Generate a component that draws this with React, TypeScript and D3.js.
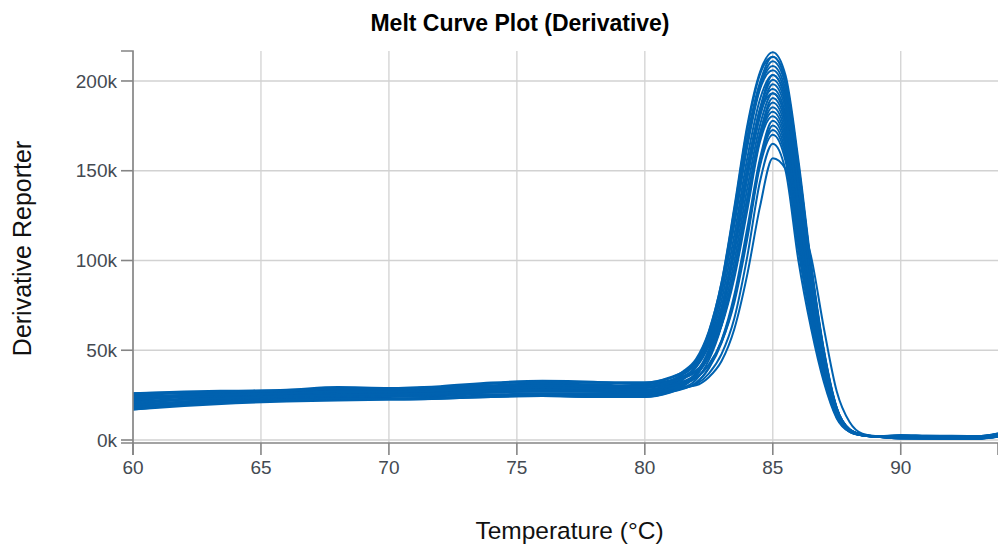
import React from 'react';
import * as d3 from 'd3';

// Temperature grid (°C)
const temperatures = [60, 62, 64, 66, 68, 70, 72, 74, 76, 78, 80, 81, 81.5, 82, 82.5, 83, 83.5, 84, 84.5, 85, 85.5, 86, 86.5, 87, 87.5, 88, 88.5, 89, 90, 91, 92, 93, 93.8];

// Derivative reporter values (thousands) per well
const well01 = [22, 24, 25, 26, 27, 27, 28, 30, 30.5, 30, 30, 33, 37, 44, 60, 88, 130, 175, 205, 216, 203, 156, 98, 50, 18, 6, 3, 2, 2.2, 2, 1.8, 1.8, 3.2];
const well02 = [19, 21.5, 23, 24, 25, 25.5, 26, 27.5, 28.5, 28, 28, 31, 34.5, 41, 56, 82.5, 122, 166, 197, 211, 198, 150.5, 94.5, 48, 17.5, 6, 3, 2, 1.8, 1.6, 1.5, 1.5, 2.8];
const well03 = [25.5, 26.5, 27, 27.5, 29, 28.5, 29.5, 31.5, 32.5, 32, 32, 35, 38, 44, 58, 83, 120.5, 163, 195.5, 206, 192.5, 145, 91, 46.5, 17, 5.7, 2.9, 2, 2.5, 2.2, 2, 2, 3.5];
const well04 = [17, 19.5, 21, 22, 22.5, 23, 23.5, 25, 26, 26, 26, 28.7, 31.8, 37.3, 50.3, 73.2, 108.6, 150.3, 183.9, 200.7, 187.1, 139.2, 87.2, 44.6, 16.2, 5.5, 2.9, 2, 1.2, 1, 0.9, 0.9, 2.2];
const well05 = [24, 25, 26, 26.5, 27.5, 27.5, 28.5, 30, 31, 30.5, 30, 32.6, 35.4, 40.4, 52.4, 73.6, 106.8, 147.4, 182.2, 195.6, 181.8, 133.6, 83.6, 42.8, 15.6, 5.4, 2.8, 2, 2, 1.8, 1.6, 1.5, 3];
const well06 = [18, 20, 21, 22, 22.5, 22.5, 23, 24, 24.5, 24, 24, 26.5, 29, 33.5, 44.5, 64, 95, 134.5, 170.5, 190.5, 176.5, 128, 80, 41, 15, 5.3, 2.8, 2, 1, 0.8, 0.8, 0.8, 2];
const well07 = [21, 22.5, 24, 25, 25.5, 26, 26.5, 28, 28.5, 28, 28, 30.4, 32.6, 36.6, 46.6, 64.4, 93.2, 131.6, 168.8, 185.4, 171.2, 122.4, 76.4, 39.2, 14.4, 5.1, 2.7, 2, 1.6, 1.4, 1.3, 1.3, 2.6];
const well08 = [26, 27, 27.5, 28, 29.5, 29, 30, 32, 33, 32.5, 31, 33.3, 35.2, 38.7, 47.7, 63.8, 90.4, 127.7, 166.1, 180.3, 165.9, 116.8, 72.8, 37.4, 13.8, 5, 2.7, 2, 2.4, 2.1, 2, 1.9, 3.4];
const well09 = [20, 21, 22, 23, 23.5, 24, 24.5, 25.5, 25.5, 25, 25, 27.2, 28.8, 31.8, 39.8, 54.2, 78.6, 114.8, 154.4, 175.2, 160.6, 111.2, 69.2, 35.6, 13.2, 4.8, 2.6, 2, 1.3, 1.1, 1, 1, 2.3];
const well10 = [23, 24, 25, 25.5, 26.5, 26.5, 27, 29, 29.5, 29, 29, 31.1, 32.4, 34.9, 41.9, 54.6, 76.8, 111.9, 152.7, 170.1, 155.3, 105.6, 65.6, 33.8, 12.6, 4.65, 2.55, 2, 2, 1.7, 1.6, 1.6, 3];
const well11 = [18.5, 21, 22.5, 23.5, 24, 24.5, 25, 26.5, 27, 27, 26, 28, 29, 31, 37, 48, 68, 102, 144, 165, 150, 100, 62, 32, 12, 4.5, 2.5, 2, 1.5, 1.3, 1.2, 1.2, 2.5];
const well12 = [24.5, 24.5, 25, 25, 25, 25.5, 25.5, 26.5, 27, 27, 27, 28.5, 29.5, 30.5, 35, 44, 62, 92, 130, 157, 151, 126, 102, 62, 27, 10, 3.5, 2.2, 1.8, 1.6, 1.4, 1.4, 2.8];
const well13 = [20, 22.5, 24, 25, 26, 26.5, 27, 28.5, 29, 28, 27, 30, 33.8, 40.6, 56, 83.2, 124.1, 168.6, 199.2, 213.5, 200.4, 153.2, 96.2, 49.1, 17.7, 5.9, 3, 2, 1.7, 1.5, 1.4, 1.4, 2.7];
const well14 = [23.5, 25, 26, 27, 28, 28, 29, 30.5, 31.5, 31, 30, 32.9, 36.4, 42.7, 57.2, 82.6, 121.3, 164.7, 196.5, 208.4, 195.1, 147.6, 92.6, 47.3, 17.1, 5.8, 2.9, 2, 2.3, 2, 1.9, 1.8, 3.3];
const well15 = [21.5, 23, 24.5, 25.5, 26.5, 27, 27.5, 29, 30, 29.5, 29, 31.8, 35, 40.8, 54.3, 78, 114.5, 156.8, 189.8, 203.3, 189.8, 142, 89, 45.5, 16.5, 5.6, 2.9, 2, 1.4, 1.2, 1.1, 1.1, 2.4];
const well16 = [17.5, 19.5, 21, 22, 22.5, 23, 23.5, 24.5, 25.5, 25, 25, 27.7, 30.6, 35.9, 48.4, 70.4, 104.7, 145.9, 180.1, 198.2, 184.5, 136.4, 85.4, 43.7, 15.9, 5.5, 2.8, 2, 0.9, 0.8, 0.7, 0.7, 1.9];
const well17 = [25, 26, 26.5, 27.5, 28.5, 28.5, 29.5, 31.5, 32.5, 32, 32, 34.6, 37.2, 42, 53.5, 73.8, 105.9, 146, 181.4, 193.1, 179.2, 130.8, 81.8, 41.9, 15.3, 5.3, 2.8, 2, 2.6, 2.3, 2.2, 2.1, 3.6];
const well18 = [19.5, 21.5, 23, 24, 24.5, 25, 25.5, 27, 27.5, 27.5, 27, 29.5, 31.8, 36.1, 46.6, 65.2, 95.1, 134.1, 170.7, 188, 173.9, 125.2, 78.2, 40.1, 14.7, 5.2, 2.7, 2, 1.2, 1, 1, 1, 2.2];
const well19 = [22.5, 24, 25, 26, 27, 27, 28, 29.5, 30.5, 30, 30, 32.4, 34.4, 38.2, 47.7, 64.6, 92.3, 130.2, 168, 182.9, 168.6, 119.6, 74.6, 38.3, 14.1, 5, 2.7, 2, 1.9, 1.7, 1.6, 1.5, 2.9];
const well20 = [18, 20.5, 21.5, 22.5, 23, 23, 23.5, 24.5, 25, 24.5, 24.5, 26.8, 28.5, 31.8, 40.3, 55.5, 81, 117.8, 156.8, 177.8, 163.3, 114, 71, 36.5, 13.5, 4.9, 2.6, 2, 0.8, 0.7, 0.6, 0.6, 1.8];
const well21 = [24, 25, 25.5, 26, 27, 27, 27.5, 29, 29.5, 28.5, 28, 30.2, 31.6, 34.4, 41.9, 55.4, 78.7, 114.4, 154.6, 172.7, 158, 108.4, 67.4, 34.7, 12.9, 4.7, 2.6, 2, 1.6, 1.4, 1.3, 1.3, 2.7];
const well22 = [17, 19, 20.5, 21.5, 22, 22.5, 23, 24, 24.5, 24, 24, 26.8, 30, 35.8, 49.3, 73, 109.5, 151.8, 184.8, 203.3, 189.8, 142, 89, 45.5, 16.5, 5.6, 2.9, 2, 1, 0.9, 0.8, 0.8, 2];
const well23 = [26, 26.5, 27, 27.5, 28.5, 28.5, 29.5, 31.5, 32.5, 32, 31.5, 34.5, 38.3, 45.1, 60.6, 87.7, 128.6, 173.1, 203.7, 213.5, 200.4, 153.2, 96.2, 49.1, 17.7, 5.9, 3, 2, 2.7, 2.4, 2.3, 2.2, 3.7];
const well24 = [21, 22.5, 23.5, 24.5, 25, 25.5, 26, 27.5, 28, 27, 26, 28.6, 31.2, 36, 47.5, 67.8, 99.9, 140, 175.4, 193.1, 179.2, 130.8, 81.8, 41.9, 15.3, 5.3, 2.8, 2, 1.5, 1.3, 1.2, 1.2, 2.5];

const wells = [
  well01, well02, well03, well04, well05, well06, well07, well08, well09, well10, well11, well12,
  well13, well14, well15, well16, well17, well18, well19, well20, well21, well22, well23, well24,
];

const xTicks = [60, 65, 70, 75, 80, 85, 90];
const yTicks = [0, 50, 100, 150, 200];
const yTickLabels = ['0k', '50k', '100k', '150k', '200k'];

export default function App() {
  const W = 998;
  const H = 546;
  const left = 133;
  const right = 998;
  const top = 51;
  const bottom = 443;

  const x = d3.scaleLinear().domain([60, 93.8]).range([left, right]);
  const y = d3.scaleLinear().domain([-1.67, 216.7]).range([bottom, top]);

  const line = d3
    .line<number>()
    .x((_, i) => x(temperatures[i]))
    .y((d) => y(d))
    .curve(d3.curveMonotoneX);

  const font = '"Liberation Sans", Arial, Helvetica, sans-serif';
  const gridColor = '#d2d2d2';
  const axisColor = '#858585';
  const tickTextColor = '#444a52';
  const lineColor = '#0062b0';

  return (
    <div style={{ position: 'absolute', left: 0, top: 0 }}>
      <svg width={W} height={H} style={{ display: 'block', fontFamily: font }}>
        <rect width={W} height={H} fill="#ffffff" />
        <defs>
          <clipPath id="plotClip">
            <rect x={left} y={top - 2} width={right - left} height={bottom - top + 4} />
          </clipPath>
        </defs>

        {/* grid */}
        <g>
          {xTicks.map((t) => (
            <line key={'gx' + t} x1={x(t)} x2={x(t)} y1={top} y2={bottom} stroke={gridColor} strokeWidth={1.3} />
          ))}
          {yTicks.map((t) => (
            <line key={'gy' + t} x1={left} x2={right} y1={y(t)} y2={y(t)} stroke={gridColor} strokeWidth={1.3} />
          ))}
        </g>

        {/* curves */}
        <g clipPath="url(#plotClip)">
          {wells.map((w, i) => (
            <path key={'w' + i} d={line(w) || ''} fill="none" stroke={lineColor} strokeWidth={2} strokeLinejoin="round" />
          ))}
        </g>

        {/* y axis */}
        <g>
          <path
            d={`M${left - 12},${top}H${left}V${bottom}H${left - 12}`}
            fill="none"
            stroke={axisColor}
            strokeWidth={1.6}
          />
          {yTicks.map((t, i) => (
            <g key={'yt' + t}>
              <line x1={left - 12} x2={left} y1={y(t)} y2={y(t)} stroke={axisColor} strokeWidth={1.6} />
              <text x={left - 16} y={y(t)} dy="0.35em" textAnchor="end" fontSize={19} fill={tickTextColor}>
                {yTickLabels[i]}
              </text>
            </g>
          ))}
        </g>

        {/* x axis */}
        <g>
          <path d={`M${left},${bottom + 12}V${bottom}H${right}V${bottom + 12}`} fill="none" stroke={axisColor} strokeWidth={1.6} />
          {xTicks.map((t) => (
            <g key={'xt' + t}>
              <line x1={x(t)} x2={x(t)} y1={bottom} y2={bottom + 12} stroke={axisColor} strokeWidth={1.6} />
              <text x={x(t)} y={474} textAnchor="middle" fontSize={19} fill={tickTextColor}>
                {t}
              </text>
            </g>
          ))}
        </g>

        {/* titles */}
        <text x={520} y={31} textAnchor="middle" fontSize={23} fontWeight="bold" fill="#000">
          Melt Curve Plot (Derivative)
        </text>
        <text x={569.5} y={539} textAnchor="middle" fontSize={24.5} fill="#111">
          Temperature (°C)
        </text>
        <text transform="translate(31,248.5) rotate(-90)" textAnchor="middle" fontSize={25} fill="#111">
          Derivative Reporter
        </text>
      </svg>
    </div>
  );
}
